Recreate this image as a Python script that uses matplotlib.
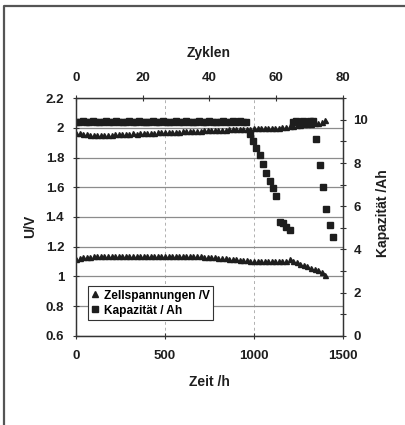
import matplotlib
matplotlib.use("Agg")
import matplotlib.pyplot as plt
from matplotlib.lines import Line2D
from matplotlib.ticker import FuncFormatter, MultipleLocator

plt.rcParams["font.family"] = ["Liberation Sans", "DejaVu Sans"]
plt.rcParams["font.weight"] = "bold"

# ==========================================================
# Data
# ==========================================================

# cell voltages (left axis) against time in h
zeit_h = [0, 20, 40, 60, 80, 100, 120, 140, 160, 180,
          200, 220, 240, 260, 280, 300, 320, 340, 360, 380,
          400, 420, 440, 460, 480, 500, 520, 540, 560, 580,
          600, 620, 640, 660, 680, 700, 720, 740, 760, 780,
          800, 820, 840, 860, 880, 900, 920, 940, 960, 980,
          1000, 1020, 1040, 1060, 1080, 1100, 1120, 1140, 1160, 1180,
          1200, 1220, 1240, 1260, 1280, 1300, 1320, 1340, 1360, 1380,
          1400]

u_ladung = [1.968, 1.965, 1.960, 1.958, 1.956, 1.955, 1.955, 1.954, 1.955, 1.956,
            1.955, 1.957, 1.958, 1.957, 1.960, 1.962, 1.963, 1.962, 1.965, 1.966,
            1.967, 1.966, 1.968, 1.970, 1.971, 1.972, 1.972, 1.974, 1.975, 1.975,
            1.977, 1.978, 1.979, 1.980, 1.981, 1.982, 1.983, 1.984, 1.985, 1.986,
            1.987, 1.988, 1.989, 1.990, 1.991, 1.992, 1.993, 1.994, 1.995, 1.996,
            1.997, 1.998, 1.998, 1.999, 2.000, 2.001, 2.002, 2.003, 2.005, 2.007,
            2.010, 2.014, 2.018, 2.021, 2.024, 2.027, 2.029, 2.031, 2.034, 2.040,
            2.052]

u_entladung = [1.120, 1.126, 1.130, 1.132, 1.133, 1.134, 1.135, 1.135, 1.136, 1.135,
               1.136, 1.136, 1.135, 1.136, 1.136, 1.135, 1.136, 1.136, 1.135, 1.136,
               1.136, 1.135, 1.136, 1.136, 1.135, 1.135, 1.136, 1.135, 1.135, 1.136,
               1.135, 1.135, 1.136, 1.135, 1.134, 1.134, 1.133, 1.132, 1.131, 1.129,
               1.127, 1.125, 1.122, 1.120, 1.117, 1.114, 1.112, 1.110, 1.108, 1.106,
               1.103, 1.102, 1.104, 1.103, 1.102, 1.103, 1.102, 1.101, 1.102, 1.104,
               1.115, 1.104, 1.095, 1.086, 1.077, 1.068, 1.058, 1.048, 1.040, 1.030,
               1.012]

# capacity (right axis) against cycle number
zyklen = list(range(0, 78))

kapazitaet = [9.88, 9.90, 9.93, 9.89, 9.91, 9.94, 9.90, 9.88, 9.92, 9.95,
              9.90, 9.89, 9.93, 9.91, 9.88, 9.92, 9.95, 9.90, 9.89, 9.93,
              9.90, 9.88, 9.92, 9.94, 9.90, 9.89, 9.93, 9.91, 9.88, 9.92,
              9.95, 9.90, 9.89, 9.93, 9.91, 9.88, 9.92, 9.94, 9.90, 9.89,
              9.93, 9.91, 9.88, 9.92, 9.95, 9.90, 9.89, 9.93, 9.91, 9.94,
              9.92, 9.88,
              9.36, 9.00, 8.69, 8.39, 7.96, 7.56, 7.19, 6.83, 6.49,
              5.29, 5.20, 5.05, 4.92,
              9.90, 9.95, 9.92, 9.96, 9.90, 9.97, 9.93,
              9.13, 7.93, 6.89, 5.87, 5.11, 4.59]

# ==========================================================
# Figure
# ==========================================================

W, H = 406, 425
fig = plt.figure(figsize=(W / 100, H / 100), dpi=100)
fig.patch.set_facecolor("white")

pos = [76 / W, 1 - 335.7 / H, (343 - 76) / W, (335.7 - 98.3) / H]
ax = fig.add_axes(pos)
ax2 = fig.add_axes(pos, facecolor="none")

ink = "#1e1e1e"

ax.set_xlim(0, 1500)
ax.set_ylim(0.6, 2.2)
ax.xaxis.set_major_locator(MultipleLocator(500))
ax.yaxis.set_major_locator(MultipleLocator(0.2))
ax.yaxis.set_major_formatter(FuncFormatter(lambda v, p: f"{v:g}"))
ax.grid(axis="y", color="#8c8c8c", lw=0.9)
ax.grid(axis="x", color="#b0b0b0", lw=0.7, ls=(0, (3, 3)))
ax.set_axisbelow(True)

ax2.set_xlim(0, 80)
ax2.set_ylim(0, 11)
ax2.xaxis.tick_top()
ax2.yaxis.tick_right()
ax2.xaxis.set_major_locator(MultipleLocator(20))
ax2.yaxis.set_major_locator(MultipleLocator(2))
ax2.yaxis.set_minor_locator(MultipleLocator(1))

for a in (ax, ax2):
    for s in a.spines.values():
        s.set_color("#333333")
        s.set_linewidth(0.9)
    a.tick_params(which="both", direction="inout", length=5, width=0.8,
                  colors="#333333", labelcolor=ink, labelsize=9.5)
ax.tick_params(axis="x", pad=8)
ax.tick_params(axis="y", pad=6)
ax2.tick_params(axis="x", pad=8)
ax2.tick_params(axis="y", pad=5)
ax2.tick_params(which="minor", length=4)

# ==========================================================
# Series
# ==========================================================

ax.plot(zeit_h, u_ladung, ls="none", marker="^", ms=3.6,
        color=ink, mec=ink, label="Zellspannungen /V")
ax.plot(zeit_h, u_entladung, ls="none", marker="^", ms=3.6,
        color=ink, mec=ink)
ax2.plot(zyklen, kapazitaet, ls="none", marker="s", ms=4.0,
         color=ink, mec=ink, label="Kapazität / Ah")

handles = [
    Line2D([], [], ls="none", marker="^", ms=4, color=ink),
    Line2D([], [], ls="none", marker="s", ms=3.8, color=ink),
]
leg = ax2.legend(handles, ["Zellspannungen /V", "Kapazität / Ah"],
                 loc="upper left", bbox_to_anchor=(88 / W, 1 - 286 / H),
                 bbox_transform=fig.transFigure, borderaxespad=0,
                 fancybox=False, edgecolor="#333333", framealpha=1,
                 handlelength=0.6, handletextpad=0.4, borderpad=0.3,
                 labelspacing=0.25, prop={"size": 8.6, "weight": "bold"})
leg.get_frame().set_linewidth(0.8)

# ==========================================================
# Labels and frame
# ==========================================================

fig.text(209 / W, 1 - 53 / H, "Zyklen", ha="center", va="center",
         fontsize=10, color=ink)
fig.text(209 / W, 1 - 382 / H, "Zeit /h", ha="center", va="center",
         fontsize=10, color=ink)
fig.text(30 / W, 1 - 226 / H, "U/V", ha="center", va="center",
         rotation=90, fontsize=10, color=ink)
fig.text(383 / W, 1 - 213 / H, "Kapazität /Ah", ha="center", va="center",
         rotation=90, fontsize=10, color=ink)

fig.add_artist(Line2D([4 / W, 4 / W, 1], [0, 1 - 6 / H, 1 - 6 / H],
                      transform=fig.transFigure, color="#555555", lw=1.6))

fig.savefig("out.png", dpi=100)
